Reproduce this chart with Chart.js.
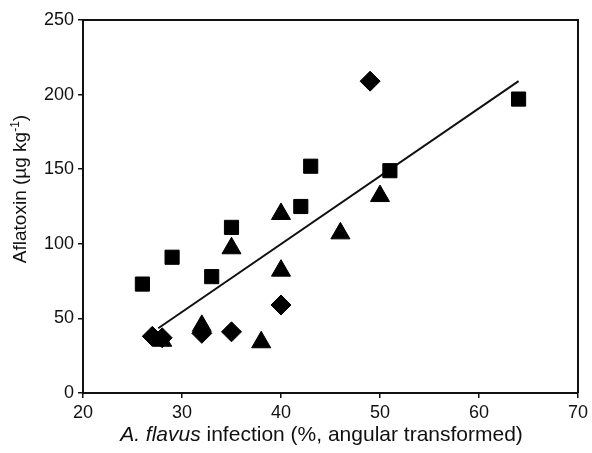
<!DOCTYPE html>
<html>
<head>
<meta charset="utf-8">
<script src="https://cdn.jsdelivr.net/npm/chart.js@4.4.1/dist/chart.umd.min.js"></script>
<style>
  html, body { margin: 0; padding: 0; background: #fff; }
</style>
</head>
<body>
<canvas id="chart" width="592" height="453"></canvas>
<script>
// valores
const squareX = [26, 29, 33, 35, 42, 43, 51, 64]
const squareY = [73, 91, 78, 111, 125, 152, 149, 197]
const triangleX = [28, 32, 35, 38, 40, 40, 46, 50]
const triangleY = [35, 45, 97, 34, 82, 120, 107, 132]
const diamondX = [27, 28, 32, 35, 40, 49]
const diamondY = [38, 37, 40, 41, 59, 209]
const fitX = [27.6, 64]
const fitY = [43.4, 209]
const xTicks = [20, 30, 40, 50, 60, 70]
const yTicks = [0, 50, 100, 150, 200, 250]

const ink = '#111'
const fontName = '"Liberation Sans", Arial, sans-serif'

const toPoints = (xs, ys) => xs.map((x, i) => ({ x: x, y: ys[i] }))

// moldura de cima/direita e titulos dos eixos
const frameAndTitles = {
    id: 'frameAndTitles',
    afterDraw(chart) {
        const { ctx, chartArea: a } = chart
        ctx.save()
        ctx.strokeStyle = ink
        ctx.lineWidth = 2
        ctx.beginPath()
        ctx.moveTo(a.left, a.top)
        ctx.lineTo(a.right, a.top)
        ctx.lineTo(a.right, a.bottom)
        ctx.stroke()

        ctx.fillStyle = ink
        ctx.textBaseline = 'alphabetic'
        ctx.textAlign = 'left'

        // titulo x
        const p1 = 'A. flavus'
        const p2 = ' infection (%, angular transformed)'
        ctx.font = 'italic 21px ' + fontName
        const w1 = ctx.measureText(p1).width
        ctx.font = '21px ' + fontName
        const w2 = ctx.measureText(p2).width
        const cx = (a.left + a.right) / 2 - 9
        let x0 = cx - (w1 + w2) / 2
        ctx.font = 'italic 21px ' + fontName
        ctx.fillText(p1, x0, 441)
        ctx.font = '21px ' + fontName
        ctx.fillText(p2, x0 + w1, 441)

        // titulo y
        const q1 = 'Aflatoxin (\u00b5g kg'
        const sup = '-1'
        const q3 = ')'
        ctx.font = '19px ' + fontName
        const v1 = ctx.measureText(q1).width
        const v3 = ctx.measureText(q3).width
        ctx.font = '12px ' + fontName
        const v2 = ctx.measureText(sup).width
        ctx.translate(26, 189)
        ctx.rotate(-Math.PI / 2)
        let s = -(v1 + v2 + v3) / 2
        ctx.font = '19px ' + fontName
        ctx.fillText(q1, s, 0)
        ctx.font = '12px ' + fontName
        ctx.fillText(sup, s + v1, -7)
        ctx.font = '19px ' + fontName
        ctx.fillText(q3, s + v1 + v2, 0)
        ctx.restore()
    }
}

new Chart(document.getElementById('chart'), {
    type: 'scatter',
    data: {
        datasets: [
            {
                type: 'line',
                data: toPoints(fitX, fitY),
                borderColor: ink,
                borderWidth: 2,
                pointRadius: 0,
                fill: false,
                order: 2
            },
            {
                data: toPoints(squareX, squareY),
                pointStyle: 'rect',
                pointRadius: 10,
                backgroundColor: '#000',
                borderColor: '#000',
                borderWidth: 1,
                order: 1
            },
            {
                data: toPoints(triangleX, triangleY),
                pointStyle: 'triangle',
                pointRadius: 11,
                backgroundColor: '#000',
                borderColor: '#000',
                borderWidth: 1,
                order: 1
            },
            {
                data: toPoints(diamondX, diamondY),
                pointStyle: 'rectRot',
                pointRadius: 10,
                backgroundColor: '#000',
                borderColor: '#000',
                borderWidth: 1,
                order: 1
            }
        ]
    },
    options: {
        responsive: false,
        animation: false,
        layout: { autoPadding: false, padding: { top: 20, right: 9, left: 0, bottom: 0 } },
        plugins: {
            legend: { display: false },
            tooltip: { enabled: false }
        },
        scales: {
            x: {
                type: 'linear',
                min: 20,
                max: 70,
                afterBuildTicks: scale => { scale.ticks = xTicks.map(v => ({ value: v })) },
                afterFit: scale => { scale.height = 60 },
                ticks: { color: ink, font: { family: fontName, size: 18 }, padding: 4, maxRotation: 0 },
                grid: { drawOnChartArea: false, drawTicks: true, tickLength: 5, color: ink, lineWidth: 1.5 },
                border: { display: true, color: ink, width: 2 }
            },
            y: {
                type: 'linear',
                min: 0,
                max: 250,
                afterBuildTicks: scale => { scale.ticks = yTicks.map(v => ({ value: v })) },
                afterFit: scale => { scale.width = 83 },
                ticks: { color: ink, font: { family: fontName, size: 18 }, padding: 4 },
                grid: { drawOnChartArea: false, drawTicks: true, tickLength: 5, color: ink, lineWidth: 1.5 },
                border: { display: true, color: ink, width: 2 }
            }
        }
    },
    plugins: [frameAndTitles]
})
</script>
</body>
</html>
